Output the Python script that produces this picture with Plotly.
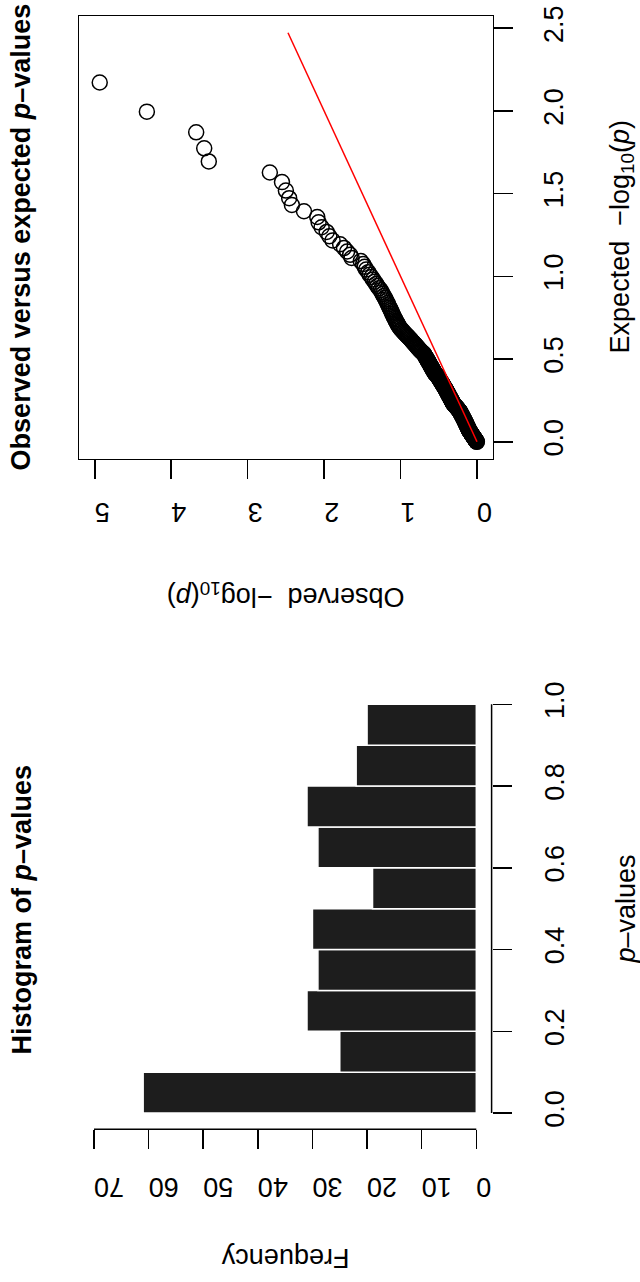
import numpy as np
import plotly.graph_objects as go

# ---------------- data ----------------
# sorted p-values (297 tests); first one is p = 0 (not drawn in the QQ plot)
p_values = [
    0.0, 1.16e-5, 4.8e-5, 2.12e-4, 2.70e-4, 3.10e-4, 0.00195, 0.00281, 0.00316, 0.00349,
    0.00379, 0.00545, 0.00813, 0.00847, 0.00927, 0.0108, 0.0117, 0.0129, 0.0162, 0.0182,
    0.0200, 0.0219, 0.0229, 0.0302, 0.0324, 0.0339,
    0.0355, 0.0378, 0.0394, 0.0417, 0.0436, 0.0458, 0.0479, 0.0497, 0.0521, 0.0548,
    0.0566, 0.0583, 0.0601, 0.0622, 0.0641, 0.0655, 0.0672, 0.0689, 0.0703, 0.0719,
    0.0738, 0.0752, 0.0769, 0.0781, 0.0798, 0.0815, 0.0832, 0.0851, 0.0866, 0.0884,
    0.0902, 0.0921, 0.0943, 0.0961, 0.0985,
    0.1021, 0.1048, 0.1083, 0.1112, 0.1147, 0.1186, 0.1224, 0.1259, 0.1297, 0.1342,
    0.1375, 0.1408, 0.1446, 0.1483, 0.1521, 0.1569, 0.1604, 0.1637, 0.1679, 0.1715,
    0.1752, 0.1798, 0.1846, 0.1893, 0.1952,
    0.2013, 0.2041, 0.2068, 0.2097, 0.2129, 0.2158, 0.2186, 0.2217, 0.2249, 0.2273,
    0.2302, 0.2331, 0.2364, 0.2392, 0.2418, 0.2451, 0.2479, 0.2508, 0.2537, 0.2569,
    0.2594, 0.2626, 0.2651, 0.2683, 0.2712, 0.2745, 0.2771, 0.2806, 0.2839, 0.2874,
    0.2937,
    0.3024, 0.3057, 0.3089, 0.3126, 0.3158, 0.3192, 0.3227, 0.3261, 0.3298, 0.3332,
    0.3367, 0.3401, 0.3438, 0.3472, 0.3509, 0.3541, 0.3576, 0.3612, 0.3648, 0.3683,
    0.3717, 0.3752, 0.3786, 0.3821, 0.3857, 0.3892, 0.3926, 0.3951, 0.3983,
    0.4018, 0.4047, 0.4079, 0.4112, 0.4141, 0.4176, 0.4208, 0.4239, 0.4273, 0.4302,
    0.4338, 0.4367, 0.4401, 0.4435, 0.4468, 0.4497, 0.4532, 0.4561, 0.4596, 0.4627,
    0.4661, 0.4693, 0.4724, 0.4758, 0.4787, 0.4821, 0.4856, 0.4889, 0.4923, 0.4968,
    0.5031, 0.5087, 0.5142, 0.5196, 0.5248, 0.5301, 0.5359, 0.5412, 0.5468, 0.5517,
    0.5573, 0.5624, 0.5681, 0.5732, 0.5786, 0.5839, 0.5891, 0.5943, 0.5987,
    0.6021, 0.6056, 0.6089, 0.6127, 0.6158, 0.6193, 0.6229, 0.6262, 0.6297, 0.6331,
    0.6368, 0.6402, 0.6437, 0.6471, 0.6506, 0.6538, 0.6574, 0.6609, 0.6643, 0.6678,
    0.6712, 0.6748, 0.6781, 0.6817, 0.6852, 0.6886, 0.6921, 0.6954, 0.6982,
    0.7016, 0.7048, 0.7079, 0.7113, 0.7142, 0.7176, 0.7207, 0.7241, 0.7269, 0.7302,
    0.7334, 0.7368, 0.7397, 0.7431, 0.7463, 0.7494, 0.7528, 0.7559, 0.7591, 0.7624,
    0.7656, 0.7687, 0.7719, 0.7751, 0.7782, 0.7814, 0.7846, 0.7877, 0.7908, 0.7941,
    0.7973,
    0.8027, 0.8072, 0.8118, 0.8161, 0.8209, 0.8253, 0.8297, 0.8342, 0.8386, 0.8431,
    0.8477, 0.8521, 0.8566, 0.8612, 0.8654, 0.8698, 0.8743, 0.8789, 0.8832, 0.8876,
    0.8921, 0.8964,
    0.9034, 0.9081, 0.9127, 0.9176, 0.9223, 0.9271, 0.9318, 0.9362, 0.9411, 0.9459,
    0.9506, 0.9553, 0.9601, 0.9648, 0.9697, 0.9743, 0.9792, 0.9838, 0.9887, 0.9962,
]

freq_ticks = [0, 10, 20, 30, 40, 50, 60, 70]
p_ticks = [0.0, 0.2, 0.4, 0.6, 0.8, 1.0]
p_tick_labels = ["0.0", "0.2", "0.4", "0.6", "0.8", "1.0"]
obs_ticks = [0, 1, 2, 3, 4, 5]
exp_ticks = [0.0, 0.5, 1.0, 1.5, 2.0, 2.5]
exp_tick_labels = ["0.0", "0.5", "1.0", "1.5", "2.0", "2.5"]

# ---------------- derived QQ values ----------------
p_arr = np.sort(np.array(p_values))
n = len(p_arr)
expected = -np.log10(np.arange(1, n + 1) / n)
with np.errstate(divide="ignore"):
    observed = -np.log10(p_arr)
ok = np.isfinite(observed)
exp_max = expected.max()

W, H = 640, 1282
FONT = "Liberation Sans, Arial, Helvetica, sans-serif"
FS = 27


def px(x):
    return x / W


def py(y):
    return 1 - y / H


fig = go.Figure()

# QQ plot (top panel): x = observed (reversed, bottom), y = expected (right)
fig.add_trace(go.Scatter(
    x=observed[ok], y=expected[ok], mode="markers",
    marker=dict(symbol="circle-open", size=15, color="black",
                line=dict(color="black", width=1.5)),
    xaxis="x", yaxis="y", showlegend=False, hoverinfo="skip"))
fig.add_trace(go.Scatter(
    x=[0, exp_max], y=[0, exp_max], mode="lines",
    line=dict(color="red", width=1.5),
    xaxis="x", yaxis="y", showlegend=False, hoverinfo="skip"))

# Histogram (bottom panel), horizontal bars
fig.add_trace(go.Histogram(
    y=p_values, ybins=dict(start=0, end=1.0, size=0.1),
    orientation="h",
    marker=dict(color="#1d1d1d", line=dict(color="white", width=1.5)),
    xaxis="x2", yaxis="y2", showlegend=False, hoverinfo="skip"))

axis_common = dict(
    showgrid=False, zeroline=False, ticks="outside", ticklen=19,
    tickwidth=1.5, tickcolor="black", automargin=False,
    tickfont=dict(family=FONT, size=FS, color="black"),
)

fig.update_layout(
    template="none",
    width=W, height=H, autosize=False,
    margin=dict(l=0, r=0, t=0, b=0, pad=0),
    paper_bgcolor="white", plot_bgcolor="white",
    bargap=0,
    xaxis=dict(domain=[px(79), px(492.5)], range=[5.2067, -0.2028],
               tickvals=obs_ticks, tickangle=180, ticklabelstandoff=19,
               showline=True, mirror=True, linecolor="black", linewidth=1.5,
               anchor="y", **axis_common),
    yaxis=dict(domain=[py(458.5), py(16.3)], range=[-0.1009, 2.5719],
               side="right", tickvals=exp_ticks, ticktext=exp_tick_labels,
               tickangle=-90, ticklabelstandoff=18,
               showline=True, mirror=True, linecolor="black", linewidth=1.5,
               anchor="x", **axis_common),
    xaxis2=dict(domain=[px(78.7), px(491.6)], range=[72.8, -2.8],
                tickvals=freq_ticks, tickangle=180, ticklabelstandoff=23,
                showline=False, anchor="y2", **axis_common),
    yaxis2=dict(domain=[py(1129.35), py(687.95)], range=[-0.04, 1.04],
                side="right", tickvals=p_ticks, ticktext=p_tick_labels,
                tickangle=-90, ticklabelstandoff=20,
                showline=False, anchor="x2", **axis_common),
)

# R-style axis lines spanning only the tick range (histogram panel)
fig.add_shape(type="line", xref="x2", yref="y2 domain",
              x0=freq_ticks[0], x1=freq_ticks[-1], y0=0, y1=0,
              line=dict(color="black", width=1.5))
fig.add_shape(type="line", xref="x2 domain", yref="y2",
              x0=1, x1=1, y0=p_ticks[0], y1=p_ticks[-1],
              line=dict(color="black", width=1.5))

ann_font = dict(family=FONT, size=FS, color="black")
annotations = [
    dict(text="<b>Observed versus expected <i>p</i>–values</b>",
         x=px(21), y=py(237.4), textangle=-90),
    dict(text="Expected\u00a0\u00a0−log<sub>10</sub>(<i>p</i>)",
         x=px(622), y=py(237.4), textangle=-90),
    dict(text="Observed\u00a0\u00a0−log<sub>10</sub>(<i>p</i>)",
         x=px(285.8), y=py(595), textangle=180),
    dict(text="<b>Histogram of <i>p</i>–values</b>",
         x=px(21), y=py(909.5), textangle=-90),
    dict(text="<i>p</i>–values",
         x=px(625), y=py(909.5), textangle=-90),
    dict(text="Frequency",
         x=px(285.2), y=py(1258), textangle=180),
]
for a in annotations:
    fig.add_annotation(xref="paper", yref="paper", showarrow=False,
                       xanchor="center", yanchor="middle", font=ann_font, **a)

fig.write_html("out.html",
               config={"displayModeBar": False, "staticPlot": True},
               post_script="document.body.style.margin='0';"
                           "document.body.style.overflow='hidden';")
